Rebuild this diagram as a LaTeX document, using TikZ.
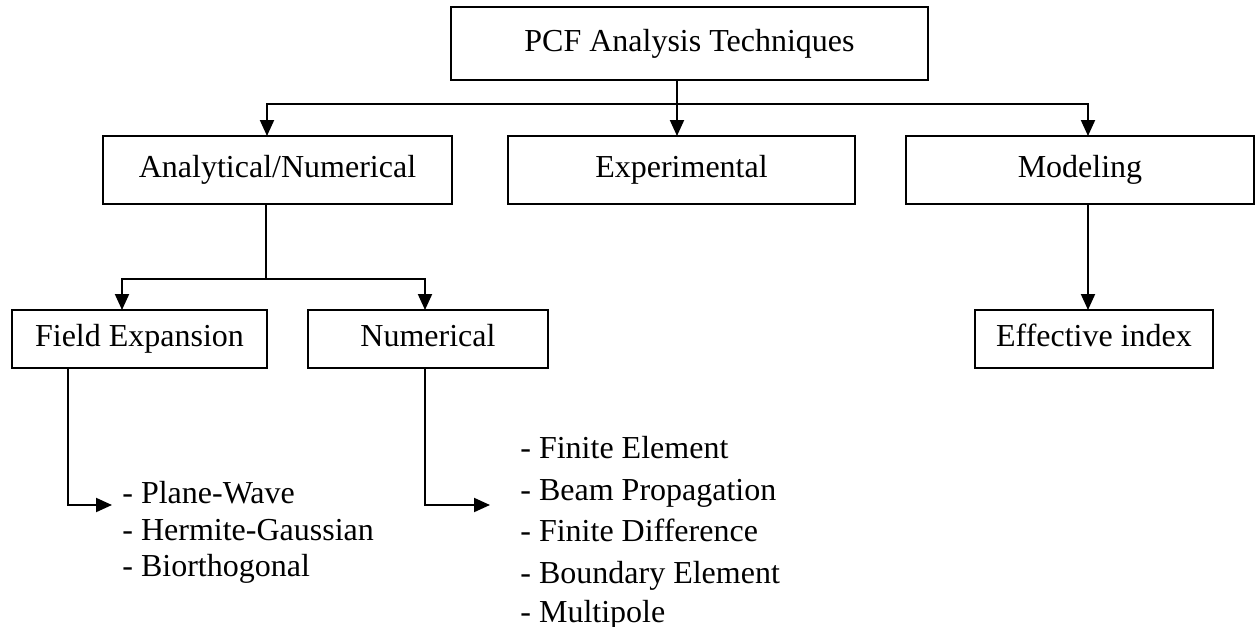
\documentclass[tikz,border=0pt]{standalone}
\usepackage{fontspec}
\setmainfont{Liberation Serif}
\usetikzlibrary{arrows.meta}
\begin{document}
\begin{tikzpicture}[x=0.5pt,y=-0.5pt,
  box/.style={draw=black,line width=1pt,inner sep=0pt,outer sep=0pt,
    font=\fontsize{16}{19}\selectfont,text height=11pt,text depth=3.5pt},
  conn/.style={draw=black,line width=1pt},
  arr/.style={conn,-{Triangle[length=8pt,width=7pt]}},
  item/.style={anchor=base west,inner sep=0pt,font=\fontsize{16}{19}\selectfont}]
\useasboundingbox (0,0) rectangle (1260,627);
\fill[white] (0,0) rectangle (1260,627);
% boxes
\node[box,minimum width=238.5pt,minimum height=36.5pt] (top) at (689.5,43.5) {PCF Analysis Techniques};
\node[box,minimum width=174.5pt,minimum height=34pt] (an) at (277.5,170) {Analytical/Numerical};
\node[box,minimum width=173.5pt,minimum height=34pt] (exp) at (681.5,170) {Experimental};
\node[box,minimum width=174pt,minimum height=34pt] (mod) at (1080,170) {Modeling};
\node[box,minimum width=127.5pt,minimum height=29pt] (fe) at (139.5,339) {Field Expansion};
\node[box,minimum width=120pt,minimum height=29pt] (num) at (428,339) {Numerical};
\node[box,minimum width=119pt,minimum height=29pt] (ei) at (1094,339) {Effective index};
% lists
\node[item] (pw) at (122,503) {- Plane-Wave};
\node[item] (hg) at (122,540) {- Hermite-Gaussian};
\node[item] (bo) at (122,576) {- Biorthogonal};
\node[item] (fel) at (520,458) {- Finite Element};
\node[item] (bp) at (520,500) {- Beam Propagation};
\node[item] (fd) at (520,541) {- Finite Difference};
\node[item] (be) at (520,583) {- Boundary Element};
\node[item] (mp) at (520,622) {- Multipole};
% connectors
\coordinate (tx) at (677,0);
\coordinate (hL) at (267,104);
\coordinate (hR) at (1088,104);
\draw[arr] (top.south -| tx) -- (exp.north -| tx);
\draw[arr] (hR) -- (hL) -- (hL |- an.north);
\draw[arr] (hL) -- (hR) -- (hR |- mod.north);
\coordinate (bx) at (266,279);
\coordinate (bL) at (122,279);
\coordinate (bR) at (425,279);
\draw[conn] (an.south -| bx) -- (bx);
\draw[arr] (bR) -- (bL) -- (bL |- fe.north);
\draw[arr] (bL) -- (bR) -- (bR |- num.north);
\draw[arr] (mod.south -| hR) -- (ei.north -| hR);
\coordinate (fx) at (68,505);
\coordinate (fe2) at (112,505);
\draw[arr] (fe.south -| fx) -- (fx) -- (fe2);
\coordinate (nx) at (425,505);
\coordinate (ne2) at (490,505);
\draw[arr] (num.south -| nx) -- (nx) -- (ne2);
\end{tikzpicture}
\end{document}
